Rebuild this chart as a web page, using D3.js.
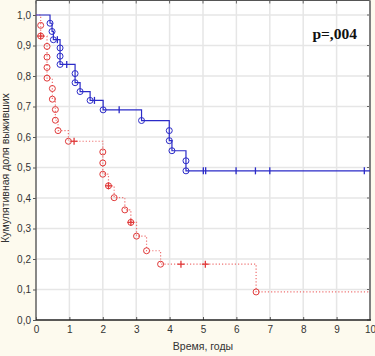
<!DOCTYPE html>
<html><head><meta charset="utf-8">
<script src="https://cdn.jsdelivr.net/npm/d3@7"></script>
<style>html,body{margin:0;padding:0;background:#fdfaee;}svg{display:block;}</style>
</head><body>
<script>
// ---- data ----
const xTicks = [0,1,2,3,4,5,6,7,8,9,10];
const yTicks = [0,0.1,0.2,0.3,0.4,0.5,0.6,0.7,0.8,0.9,1.0];
const yTickLabels = ["0,0","0,1","0,2","0,3","0,4","0,5","0,6","0,7","0,8","0,9","1,0"];

const blueTimes = [0.42,0.48,0.52,0.72,0.72,0.72,1.17,1.17,1.32,1.62,2.01,3.16,3.99,3.99,4.07,4.49,4.49];
const blueSurv  = [0.973,0.946,0.919,0.892,0.865,0.838,0.808,0.778,0.749,0.720,0.689,0.654,0.621,0.588,0.555,0.522,0.489];
const blueCensored = [0.64,0.92,1.75,2.49,5.01,5.08,5.99,6.57,7.00,9.83];

const redTimes = [0.14,0.14,0.33,0.33,0.33,0.33,0.49,0.49,0.58,0.58,0.66,0.97,2.0,2.0,2.0,2.17,2.34,2.66,2.84,3.01,3.31,3.73,6.59];
const redSurv  = [0.966,0.931,0.897,0.862,0.828,0.793,0.759,0.724,0.690,0.655,0.621,0.586,0.551,0.515,0.478,0.440,0.401,0.361,0.320,0.275,0.227,0.183,0.092];
const redCensored = [0.14,1.14,2.17,2.84,4.34,5.07];

const pLabel = "p=,004";
const xTitle = "Время, годы";
const yTitle = "Кумулятивная доля выживших";

// ---- layout ----
const W = 375, H = 356;
const L = 36, R = 370, T = 0.5, B = 320;
const x = d3.scaleLinear().domain([0,10]).range([L,R]);
const y = d3.scaleLinear().domain([0,1]).range([B,15]);

const svg = d3.select("body").append("svg").attr("width",W).attr("height",H);
svg.append("rect").attr("width",W).attr("height",H).attr("fill","#fdfaee");
svg.append("rect").attr("x",L).attr("y",T).attr("width",R-L).attr("height",B-T).attr("fill","#ffffff");

// grid
svg.append("g").selectAll("line").data(xTicks.slice(1,-1)).join("line")
  .attr("x1",d=>x(d)).attr("x2",d=>x(d)).attr("y1",T).attr("y2",B)
  .attr("stroke","#e6e6e6").attr("stroke-width",1.5);
svg.append("g").selectAll("line").data(yTicks.slice(1)).join("line")
  .attr("x1",L).attr("x2",R).attr("y1",d=>y(d)).attr("y2",d=>y(d))
  .attr("stroke","#e6e6e6").attr("stroke-width",1.5);

// axes
const font = "'Liberation Sans', Arial, sans-serif";
const yAxis = svg.append("g").attr("transform",`translate(${L},0)`)
  .call(d3.axisLeft(y).tickValues(yTicks).tickFormat((d,i)=>yTickLabels[i]).tickSize(3).tickPadding(2));
const xAxis = svg.append("g").attr("transform",`translate(0,${B})`)
  .call(d3.axisBottom(x).tickValues(xTicks).tickFormat(d3.format("d")).tickSize(-3).tickPadding(6));
[yAxis,xAxis].forEach(g=>{
  g.selectAll("text").attr("font-family",font).attr("font-size",10).attr("fill","#333");
  g.selectAll(".tick line").attr("stroke","#555");
  g.select(".domain").remove();
});
// right & top inner ticks
svg.append("g").selectAll("line").data(yTicks).join("line")
  .attr("x1",R-3).attr("x2",R).attr("y1",d=>y(d)).attr("y2",d=>y(d)).attr("stroke","#666");
svg.append("g").selectAll("line").data(xTicks).join("line")
  .attr("x1",d=>x(d)).attr("x2",d=>x(d)).attr("y1",T).attr("y2",T+3).attr("stroke","#666");

// frame
svg.append("line").attr("x1",L).attr("x2",R).attr("y1",T).attr("y2",T).attr("stroke","#555").attr("stroke-width",1);
svg.append("line").attr("x1",R).attr("x2",R).attr("y1",T).attr("y2",B).attr("stroke","#808080").attr("stroke-width",2);
svg.append("line").attr("x1",L).attr("x2",L).attr("y1",T).attr("y2",B).attr("stroke","#606060").attr("stroke-width",1.5);
svg.append("line").attr("x1",L).attr("x2",R+1).attr("y1",B).attr("y2",B).attr("stroke","#222").attr("stroke-width",1.5);

// titles
svg.append("text").attr("x",203).attr("y",350).attr("text-anchor","middle")
  .attr("font-family",font).attr("font-size",10.5).attr("fill","#333").text(xTitle);
svg.append("text").attr("transform","translate(9,168) rotate(-90)").attr("text-anchor","middle")
  .attr("font-family",font).attr("font-size",10.5).attr("fill","#333").text(yTitle);
svg.append("text").attr("x",357).attr("y",39).attr("text-anchor","end")
  .attr("font-family","'Liberation Serif','Times New Roman',serif").attr("font-weight","bold")
  .attr("font-size",15.5).attr("fill","#111").text(pLabel);

// KM curves
const stepLine = d3.line().x(d=>x(d[0])).y(d=>y(d[1])).curve(d3.curveStepAfter);
function pts(times, surv){
  const p = [[0,1]];
  times.forEach((t,i)=>p.push([t,surv[i]]));
  p.push([10, surv[surv.length-1]]);
  return p;
}
function survAt(times, surv, t){
  let s = 1;
  times.forEach((tt,i)=>{ if (tt<=t) s = surv[i]; });
  return s;
}

function drawSeries(times, surv, cens, color, lineColor, dash, censorType){
  const g = svg.append("g");
  g.append("path").attr("d",stepLine(pts(times,surv))).attr("fill","none")
    .attr("stroke",lineColor).attr("stroke-width",1.2).attr("stroke-dasharray",dash);
  g.selectAll("circle").data(times).join("circle")
    .attr("cx",(d)=>x(d)).attr("cy",(d,i)=>y(surv[i])).attr("r",3)
    .attr("fill","none").attr("stroke",color).attr("stroke-width",1);
  cens.forEach(t=>{
    const cx = x(t), cy = y(survAt(times,surv,t));
    g.append("line").attr("x1",cx).attr("x2",cx).attr("y1",cy-3.5).attr("y2",cy+3.5)
      .attr("stroke",color).attr("stroke-width",1.3);
    if (censorType==="plus"){
      g.append("line").attr("x1",cx-3.5).attr("x2",cx+3.5).attr("y1",cy).attr("y2",cy)
        .attr("stroke",color).attr("stroke-width",1.3);
    }
  });
}
drawSeries(redTimes, redSurv, redCensored, "#e03a3a", "#ee7070", "1.2,2", "plus");
drawSeries(blueTimes, blueSurv, blueCensored, "#2b2bc8", "#2b2bc8", null, "bar");
</script>
</body></html>
